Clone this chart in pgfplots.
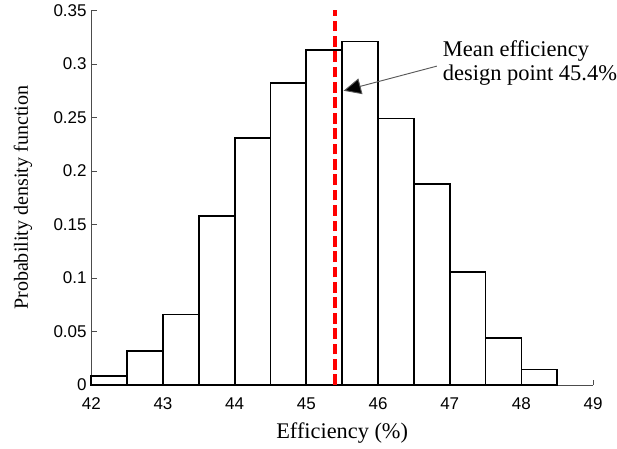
\documentclass[border=0pt]{standalone}
\usepackage{pgfplots}
\pgfplotsset{compat=1.18}
\usepackage{fontspec}
\setmainfont{Liberation Serif}
\setsansfont{Liberation Sans}
\usetikzlibrary{arrows.meta}
\begin{document}
\begin{tikzpicture}
\begin{axis}[
  width=375pt, height=280pt, scale only axis,
  xmin=42, xmax=49, ymin=0, ymax=0.35,
  xtick={42,43,...,49},
  ytick={0,0.05,0.1,0.15,0.2,0.25,0.3,0.35},
  axis x line=bottom, axis y line=left,
  axis line style={-, line width=0.7pt, black!70},
  tick align=inside,
  major tick length=4pt,
  tick style={black!70, line width=0.7pt},
  /pgf/number format/fixed,
  /pgf/number format/assume math mode=true,
  tick label style={font=\sffamily\fontsize{12.7}{14}\selectfont},
  xticklabel style={yshift=-6pt},
  xlabel={Efficiency (\%)},
  ylabel={Probability density function},
  xlabel style={font=\fontsize{16.7}{18}\selectfont, yshift=-3pt},
  ylabel style={font=\fontsize{15}{18}\selectfont, yshift=9pt},
  clip=false,
]
\addplot[ybar interval, fill=white, draw=black, line width=1.3pt] coordinates {
  (42,0.0084) (42.5,0.032) (43,0.066) (43.5,0.158) (44,0.231) (44.5,0.282)
  (45,0.313) (45.5,0.321) (46,0.249) (46.5,0.188) (47,0.106) (47.5,0.044)
  (48,0.0147) (48.5,0) };
\addplot[red, line width=2.3pt, dash pattern=on 8pt off 3.5pt] coordinates {(45.4,0) (45.4,0.35)};
\draw[black!65, line width=0.7pt, -{Triangle[length=13pt,width=12pt,fill=black]}]
  (axis cs:46.82,0.298) -- (axis cs:45.52,0.275);
\node[anchor=west, align=left, font=\fontsize{16.8}{18.2}\selectfont, inner sep=0pt]
  at (axis cs:46.9,0.301) {Mean efficiency\\design point 45.4\%};
\end{axis}
\path (current bounding box.west) ++(-7pt,0);
\end{tikzpicture}
\end{document}
